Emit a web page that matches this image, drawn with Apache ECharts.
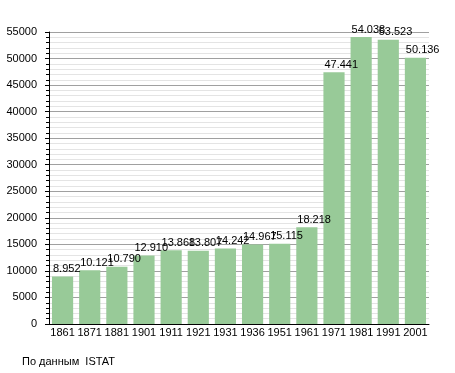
<!DOCTYPE html>
<html>
<head>
<meta charset="utf-8">
<script src="https://cdn.jsdelivr.net/npm/echarts@6/dist/echarts.min.js"></script>
<style>
html,body{margin:0;padding:0;background:#fff;}
#c{width:455px;height:373px;}
</style>
</head>
<body>
<div id="c"></div>
<script>
var categories = ['1861','1871','1881','1901','1911','1921','1931','1936','1951','1961','1971','1981','1991','2001'];
var population = [8952, 10121, 10790, 12910, 13868, 13807, 14242, 14967, 15115, 18218, 47441, 54038, 53523, 50136];
var yTicks = { min: 0, max: 55000, interval: 5000 };
var footer = 'По данным  ISTAT';

function fmt(v) {
  return String(v).replace(/\B(?=(\d{3})+(?!\d))/g, '.');
}

var chart = echarts.init(document.getElementById('c'), null, { renderer: 'canvas' });
var font = 'Liberation Sans, Arial, sans-serif';
chart.setOption({
  animation: false,
  backgroundColor: '#ffffff',
  grid: { left: 49, right: 26, top: 32, bottom: 49, containLabel: false },
  graphic: [{
    type: 'text', left: 22, top: 356,
    style: { text: footer, fontFamily: font, fontSize: 11, fill: '#000' }
  }],
  xAxis: {
    type: 'category',
    data: categories,
    boundaryGap: true,
    axisLine: { show: true, lineStyle: { color: '#000', width: 1 } },
    axisTick: { show: false },
    axisLabel: { color: '#000', fontFamily: font, fontSize: 11, margin: 3, interval: 0 }
  },
  yAxis: {
    type: 'value',
    min: yTicks.min, max: yTicks.max, interval: yTicks.interval,
    axisLine: { show: true, lineStyle: { color: '#000', width: 1 } },
    axisTick: { show: true, length: 4, lineStyle: { color: '#000' } },
    minorTick: { show: true, splitNumber: 5, length: 3, lineStyle: { color: '#000' } },
    splitLine: { show: true, lineStyle: { color: '#a0a0a0', width: 1 } },
    minorSplitLine: { show: true, lineStyle: { color: '#e4e4e4', width: 1 } },
    axisLabel: { color: '#000', fontFamily: font, fontSize: 11, margin: 12,
      formatter: function (v) { return String(v); } }
  },
  series: [{
    type: 'bar',
    data: population,
    barCategoryGap: '22%',
    itemStyle: { color: '#98ca98' },
    label: {
      show: true,
      position: [1, -2],
      align: 'left',
      verticalAlign: 'bottom',
      color: '#000',
      fontFamily: font,
      fontSize: 11,
      formatter: function (p) { return fmt(p.value); }
    }
  }]
});
</script>
</body>
</html>
